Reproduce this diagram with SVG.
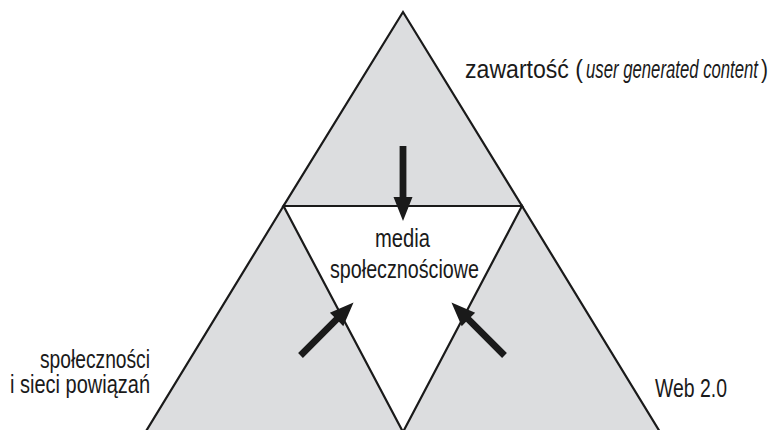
<svg xmlns="http://www.w3.org/2000/svg" xmlns:xlink="http://www.w3.org/1999/xlink" width="771" height="430" viewBox="0 0 771 430">
<style>
.tri{fill:#dcdddf;stroke:#1a1a1a;stroke-width:2.2;stroke-linejoin:miter}
.lbl{font-family:"Liberation Sans","DejaVu Sans",sans-serif;font-size:25px;fill:#1a1a1a}
.it{font-style:italic}
.arr{fill:#1a1a1a}
</style>
<defs>
<path id="arrow" class="arr" d="M0,-3.4 H51 V-9.5 L75,0 L51,9.5 V3.4 H0 Z"/>
</defs>
<rect width="771" height="430" fill="#ffffff"/>
<g id="top-triangle"><polygon class="tri" points="403,12 283.5,206 522,206"/></g>
<g id="left-triangle"><polygon class="tri" points="283.5,206 145.5,432 403,432"/></g>
<g id="right-triangle"><polygon class="tri" points="522,206 403,432 660,432"/></g>
<g id="center">
<text class="lbl" x="375" y="247" textLength="55" lengthAdjust="spacingAndGlyphs">media</text>
<text class="lbl" x="330" y="278" textLength="149" lengthAdjust="spacingAndGlyphs">społecznościowe</text>
</g>
<g id="label-top">
<text class="lbl" x="465" y="78" textLength="118" lengthAdjust="spacingAndGlyphs">zawartość (</text>
<text class="lbl it" x="586" y="78" textLength="172" lengthAdjust="spacingAndGlyphs">user generated content</text>
<text class="lbl" x="761" y="78" textLength="7" lengthAdjust="spacingAndGlyphs">)</text>
</g>
<g id="label-left">
<text class="lbl" x="40" y="368" textLength="110" lengthAdjust="spacingAndGlyphs">społeczności</text>
<text class="lbl" x="10" y="393" textLength="140" lengthAdjust="spacingAndGlyphs">i sieci powiązań</text>
</g>
<g id="label-right"><text class="lbl" x="655" y="397" textLength="72" lengthAdjust="spacingAndGlyphs">Web 2.0</text></g>
<g id="connectors">
<use xlink:href="#arrow" href="#arrow" transform="translate(403,146) rotate(90)"/>
<use xlink:href="#arrow" href="#arrow" transform="translate(300.5,355.5) rotate(-45)"/>
<use xlink:href="#arrow" href="#arrow" transform="translate(504.5,355.5) rotate(-135)"/>
</g>
</svg>
